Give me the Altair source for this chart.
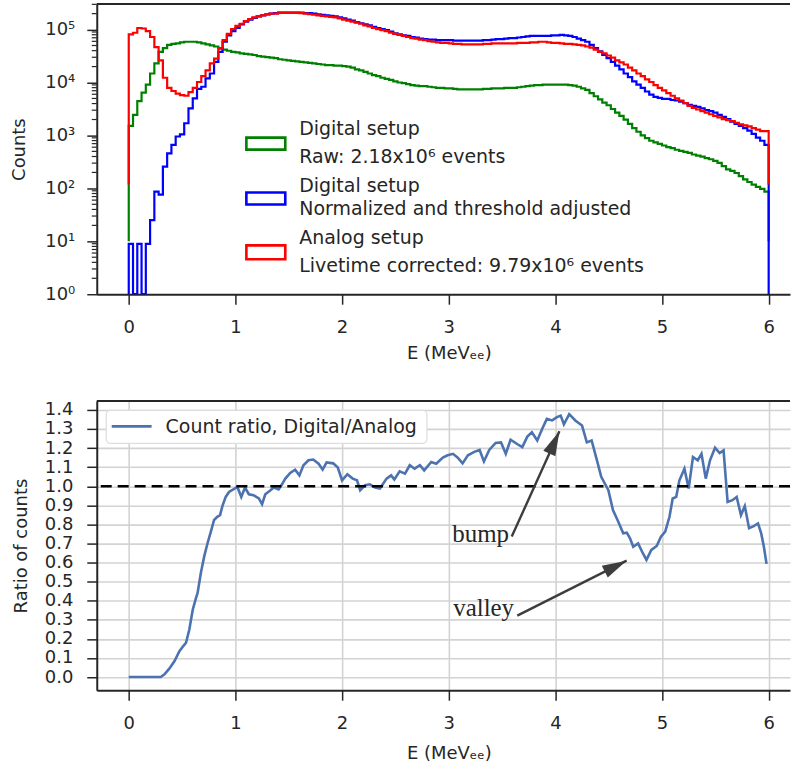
import altair as alt
import pandas as pd

# ---------------- data ----------------
BIN_WIDTH = 0.04  # MeVee, 150 bins from 0 to 6

GREEN_LOG10 = [
    3.18, 3.39, 3.65, 3.81, 3.96, 4.17, 4.36, 4.58, 4.65, 4.71,
    4.73, 4.74, 4.76, 4.77, 4.77, 4.77, 4.76, 4.74, 4.72, 4.70,
    4.68, 4.65, 4.62, 4.60, 4.58, 4.57, 4.55, 4.54, 4.53, 4.52,
    4.50, 4.49, 4.48, 4.47, 4.46, 4.44, 4.43, 4.42, 4.41, 4.40,
    4.39, 4.38, 4.37, 4.36, 4.35, 4.34, 4.33, 4.33, 4.32, 4.32,
    4.31, 4.30, 4.28, 4.25, 4.23, 4.20, 4.17, 4.14, 4.12, 4.09,
    4.07, 4.05, 4.02, 4.00, 3.99, 3.97, 3.95, 3.94, 3.93, 3.93,
    3.92, 3.91, 3.90, 3.90, 3.89, 3.89, 3.88, 3.87, 3.87, 3.87,
    3.87, 3.87, 3.87, 3.88, 3.88, 3.89, 3.89, 3.89, 3.90, 3.90,
    3.90, 3.91, 3.92, 3.93, 3.94, 3.95, 3.95, 3.96, 3.96, 3.96,
    3.96, 3.96, 3.96, 3.95, 3.94, 3.92, 3.89, 3.86, 3.80, 3.74,
    3.68, 3.62, 3.57, 3.50, 3.43, 3.37, 3.30, 3.22, 3.14, 3.07,
    3.00, 2.95, 2.90, 2.87, 2.84, 2.81, 2.78, 2.76, 2.73, 2.71,
    2.69, 2.67, 2.64, 2.62, 2.60, 2.57, 2.55, 2.52, 2.48, 2.42,
    2.36, 2.33, 2.29, 2.23, 2.17, 2.12, 2.07, 2.03, 1.99, 1.94,
]

BLUE_LOG10 = [
    0.95, 0.00, 0.95, 0.00, 0.95, 1.40, 1.94, 1.88, 2.41, 2.66,
    2.82, 2.98, 3.02, 3.23, 3.51, 3.70, 3.88, 3.92, 4.08, 4.17,
    4.39, 4.58, 4.77, 4.89, 4.97, 5.03, 5.10, 5.15, 5.19, 5.22,
    5.25, 5.27, 5.29, 5.30, 5.31, 5.32, 5.32, 5.32, 5.32, 5.32,
    5.32, 5.31, 5.31, 5.30, 5.29, 5.28, 5.27, 5.26, 5.25, 5.23,
    5.21, 5.19, 5.17, 5.14, 5.12, 5.10, 5.08, 5.05, 5.03, 5.01,
    4.99, 4.96, 4.93, 4.91, 4.89, 4.88, 4.86, 4.85, 4.83, 4.82,
    4.81, 4.81, 4.80, 4.80, 4.80, 4.80, 4.79, 4.79, 4.79, 4.79,
    4.79, 4.79, 4.79, 4.80, 4.80, 4.81, 4.82, 4.82, 4.83, 4.84,
    4.84, 4.85, 4.86, 4.87, 4.88, 4.88, 4.88, 4.88, 4.88, 4.89,
    4.89, 4.90, 4.89, 4.88, 4.86, 4.83, 4.80, 4.77, 4.71, 4.65,
    4.59, 4.52, 4.46, 4.39, 4.32, 4.25, 4.17, 4.10, 4.02, 3.96,
    3.90, 3.83, 3.77, 3.73, 3.71, 3.69, 3.69, 3.67, 3.66, 3.64,
    3.61, 3.58, 3.56, 3.54, 3.51, 3.48, 3.46, 3.43, 3.39, 3.35,
    3.31, 3.26, 3.22, 3.18, 3.14, 3.09, 3.03, 2.96, 2.90, 2.82,
]

RED_LOG10 = [
    4.91, 4.94, 5.03, 5.02, 4.97, 4.86, 4.67, 4.42, 4.09, 3.90,
    3.84, 3.79, 3.76, 3.75, 3.82, 3.90, 4.01, 4.12, 4.23, 4.36,
    4.45, 4.64, 4.80, 4.92, 5.01, 5.07, 5.11, 5.16, 5.20, 5.23,
    5.25, 5.27, 5.28, 5.30, 5.30, 5.32, 5.32, 5.32, 5.32, 5.32,
    5.31, 5.30, 5.29, 5.28, 5.27, 5.26, 5.25, 5.24, 5.23, 5.21,
    5.19, 5.17, 5.15, 5.13, 5.11, 5.08, 5.06, 5.03, 5.01, 4.99,
    4.97, 4.94, 4.92, 4.90, 4.88, 4.86, 4.84, 4.83, 4.81, 4.80,
    4.78, 4.77, 4.76, 4.75, 4.75, 4.74, 4.73, 4.73, 4.72, 4.72,
    4.72, 4.72, 4.72, 4.73, 4.73, 4.74, 4.74, 4.74, 4.74, 4.74,
    4.74, 4.75, 4.75, 4.75, 4.76, 4.76, 4.77, 4.77, 4.76, 4.75,
    4.75, 4.74, 4.73, 4.73, 4.72, 4.71, 4.70, 4.68, 4.66, 4.62,
    4.58, 4.55, 4.51, 4.47, 4.42, 4.38, 4.34, 4.28, 4.23, 4.17,
    4.12, 4.06, 4.01, 3.95, 3.90, 3.85, 3.80, 3.75, 3.70, 3.66,
    3.61, 3.56, 3.52, 3.49, 3.46, 3.43, 3.40, 3.37, 3.34, 3.31,
    3.29, 3.27, 3.24, 3.21, 3.19, 3.17, 3.14, 3.11, 3.08, 3.08,
]

# lower end of each histogram outline (counts)
GREEN_FLOOR = 10.0
BLUE_FLOOR = 1.0
RED_FLOOR = 118.0

RATIO_E = [
    0.0, 0.30, 0.335, 0.38, 0.428, 0.475, 0.515, 0.537, 0.568, 0.60,
    0.63, 0.645, 0.676, 0.707, 0.738, 0.77, 0.80, 0.83, 0.856, 0.878,
    0.909, 0.94, 0.98, 1.018, 1.055, 1.09, 1.126, 1.17, 1.22, 1.25,
    1.28, 1.32, 1.36, 1.405, 1.437, 1.468, 1.514, 1.56, 1.60, 1.638,
    1.685, 1.73, 1.78, 1.818, 1.855, 1.917, 1.96, 2.0, 2.05, 2.10,
    2.14, 2.17, 2.215, 2.26, 2.31, 2.355, 2.417, 2.46, 2.49, 2.54,
    2.59, 2.635, 2.68, 2.73, 2.77, 2.836, 2.883, 2.945, 2.99, 3.04,
    3.085, 3.13, 3.18, 3.24, 3.29, 3.33, 3.38, 3.44, 3.49, 3.535,
    3.58, 3.645, 3.69, 3.737, 3.78, 3.83, 3.876, 3.92, 3.97, 4.015,
    4.05, 4.08, 4.13, 4.187, 4.25, 4.295, 4.34, 4.39, 4.43, 4.497,
    4.54, 4.59, 4.636, 4.67, 4.70, 4.73, 4.776, 4.82, 4.854, 4.90,
    4.95, 4.99, 5.03, 5.07, 5.10, 5.133, 5.163, 5.21, 5.25, 5.29,
    5.335, 5.37, 5.41, 5.45, 5.497, 5.54, 5.577, 5.615, 5.66, 5.70,
    5.74, 5.776, 5.816, 5.86, 5.90, 5.93, 5.955, 5.98,
]
RATIO_R = [
    0.0, 0.0, 0.014, 0.044, 0.083, 0.136, 0.165, 0.18, 0.249, 0.353,
    0.414, 0.44, 0.545, 0.631, 0.70, 0.762, 0.823, 0.84, 0.849, 0.896,
    0.944, 0.97, 0.983, 0.997, 0.944, 0.993, 0.958, 0.953, 0.936, 0.906,
    0.958, 0.975, 0.993, 0.983, 1.01, 1.04, 1.07, 1.087, 1.057, 1.11,
    1.136, 1.14, 1.118, 1.087, 1.125, 1.12, 1.098, 1.031, 1.063, 1.04,
    1.031, 0.979, 1.005, 1.01, 0.993, 0.988, 1.04, 1.057, 1.035, 1.078,
    1.066, 1.11, 1.092, 1.11, 1.083, 1.127, 1.118, 1.15, 1.162, 1.17,
    1.15, 1.12, 1.162, 1.18, 1.19, 1.13, 1.19, 1.227, 1.23, 1.17,
    1.244, 1.22, 1.205, 1.26, 1.283, 1.24, 1.30, 1.353, 1.345, 1.362,
    1.37, 1.325, 1.378, 1.345, 1.318, 1.23, 1.24, 1.136, 1.049, 0.979,
    0.875, 0.814, 0.753, 0.757, 0.727, 0.683, 0.70, 0.649, 0.614, 0.666,
    0.687, 0.736, 0.762, 0.84, 0.936, 0.944, 1.031, 1.092, 0.988, 1.153,
    1.136, 1.17, 1.04, 1.136, 1.202, 1.174, 1.188, 0.918, 0.927, 0.944,
    0.849, 0.896, 0.78, 0.791, 0.805, 0.753, 0.683, 0.593,
]

X_TICKS = [0, 1, 2, 3, 4, 5, 6]
LOG_TICKS = [1, 10, 100, 1000, 10000, 100000]
LOG_MINOR = [m * 10 ** k for k in range(0, 6) for m in range(2, 10) if m * 10 ** k <= 3.0e5]
RATIO_TICKS = [0.0, 0.1, 0.2, 0.3, 0.4, 0.5, 0.6, 0.7, 0.8, 0.9, 1.0, 1.1, 1.2, 1.3, 1.4]

TOP_LEGEND = [
    ("#008000", ["Digital setup", "Raw: 2.18x10\u2076 events"]),
    ("#0000ff", ["Digital setup", "Normalized and threshold adjusted"]),
    ("#ff0000", ["Analog setup", "Livetime corrected: 9.79x10\u2076 events"]),
]
RATIO_LABEL = "Count ratio, Digital/Analog"
ANNOTATIONS = [
    # text, text x, text y, arrow start x, y, arrow tip x, y, head angle
    ("bump", 3.566, 0.709, 3.591, 0.736, 4.038, 1.288, 24.4),
    ("valley", 3.613, 0.318, 3.643, 0.322, 4.668, 0.610, 63.3),
]

# ---------------- styling ----------------
FONT = "DejaVu Sans"
INK = "#262626"
W, H = 695, 291
H2 = 290
X_TITLE = "E (MeV\u2091\u2091)"

x_scale = alt.Scale(domain=[-0.3, 6.2], nice=False, zero=False)
y_log = alt.Scale(type="log", domain=[1, 3.05e5], nice=False)
y_ratio = alt.Scale(domain=[-0.069, 1.447], nice=False, zero=False)

label_expr = ("datum.value == 1 ? '10\u2070' : datum.value == 10 ? '10\u00b9' : "
              "datum.value == 100 ? '10\u00b2' : datum.value == 1000 ? '10\u00b3' : "
              "datum.value == 10000 ? '10\u2074' : '10\u2075'")

X_AXIS_TOP = alt.Axis(values=X_TICKS, format="d", title=X_TITLE, grid=False,
                      labelFlush=False, labelPadding=14, titlePadding=8, titleX=353)
Y_AXIS_TOP = alt.Axis(values=LOG_TICKS, labelExpr=label_expr, title="Counts",
                      grid=False, labelFlush=False, labelOverlap=False,
                      labelPadding=12, titlePadding=16)
X_AXIS_BOT = alt.Axis(values=X_TICKS, format="d", title=X_TITLE, grid=True,
                      gridColor="#d3d3d3", gridWidth=1.6, labelFlush=False,
                      labelPadding=14, titlePadding=12, titleX=353)
Y_AXIS_BOT = alt.Axis(values=RATIO_TICKS, format=".1f", title="Ratio of counts",
                      grid=True, gridColor="#d3d3d3", gridWidth=1.6,
                      labelFlush=False, labelOverlap=False,
                      labelPadding=14, titlePadding=14)

one = pd.DataFrame({"k": [0]})


def step_frame(logs, floor):
    """Histogram outline as explicit horizontal/vertical segments."""
    n = len(logs)
    xs, cs = [0.0], [floor]
    for k, v in enumerate(logs):
        xs += [round(k * BIN_WIDTH, 4), round((k + 1) * BIN_WIDTH, 4)]
        cs += [10 ** v, 10 ** v]
    xs.append(round(n * BIN_WIDTH, 4))
    cs.append(floor)
    return pd.DataFrame({"E": xs, "C": cs, "i": list(range(len(xs)))})


def hist(logs, floor, color):
    return alt.Chart(step_frame(logs, floor)).mark_line(
        color=color, strokeWidth=2.2, clip=True, strokeJoin="miter"
    ).encode(
        x=alt.X("E:Q", scale=x_scale, axis=X_AXIS_TOP),
        y=alt.Y("C:Q", scale=y_log, axis=Y_AXIS_TOP),
        order="i:Q",
    )


top_layers = [
    hist(GREEN_LOG10, GREEN_FLOOR, "#008000"),
    hist(BLUE_LOG10, BLUE_FLOOR, "#0000ff"),
    hist(RED_LOG10, RED_FLOOR, "#ff0000"),
    alt.Chart(pd.DataFrame({"C": LOG_MINOR})).mark_rule(color=INK, strokeWidth=1.2).encode(
        y=alt.Y("C:Q", scale=y_log, axis=Y_AXIS_TOP), x=alt.value(0), x2=alt.value(-5)),
    alt.Chart(one).mark_rule(color=INK, strokeWidth=2).encode(
        x=alt.value(0), x2=alt.value(W), y=alt.value(0)),
]

patch_y = [(134, 146), (189, 201), (242, 256)]
text_y = [(131.3, 159.7), (188.7, 211.3), (240.7, 268.7)]
for (color, lines), (py0, py1), (ty0, ty1) in zip(TOP_LEGEND, patch_y, text_y):
    top_layers.append(alt.Chart(one).mark_rect(fill="white", stroke=color, strokeWidth=2.6).encode(
        x=alt.value(150), x2=alt.value(189), y=alt.value(py0), y2=alt.value(py1)))
    for line, ty in zip(lines, (ty0, ty1)):
        top_layers.append(alt.Chart(one).mark_text(
            align="left", baseline="alphabetic", font=FONT, fontSize=19, color=INK
        ).encode(x=alt.value(203), y=alt.value(ty), text=alt.value(line)))

top = alt.layer(*top_layers).properties(width=W, height=H)

# ---------------- bottom panel ----------------
ratio_df = pd.DataFrame({"E": RATIO_E, "R": RATIO_R})


def bx(field):
    return alt.X(field, type="quantitative", scale=x_scale, axis=X_AXIS_BOT)


def by(field):
    return alt.Y(field, type="quantitative", scale=y_ratio, axis=Y_AXIS_BOT)


ann = pd.DataFrame({
    "label": [a[0] for a in ANNOTATIONS],
    "E": [a[1] for a in ANNOTATIONS], "R": [a[2] for a in ANNOTATIONS],
    "sx": [a[3] for a in ANNOTATIONS], "sy": [a[4] for a in ANNOTATIONS],
    "ex": [a[5] for a in ANNOTATIONS], "ey": [a[6] for a in ANNOTATIONS],
    "ang": [a[7] for a in ANNOTATIONS],
})
ARROW = "#3d3d3d"

bottom_layers = [
    alt.Chart(ratio_df).mark_line(color="#4C72B0", strokeWidth=2.6).encode(
        x=bx("E"), y=by("R")),
    alt.Chart(pd.DataFrame({"R": [1.0]})).mark_rule(
        color="black", strokeWidth=2.6, strokeDash=[11, 6]).encode(y=by("R")),
    alt.Chart(one).mark_rect(fill="white", stroke="#dddddd", strokeWidth=1.2, cornerRadius=4).encode(
        x=alt.value(9.5), x2=alt.value(331), y=alt.value(9.5), y2=alt.value(42.5)),
    alt.Chart(one).mark_rule(color="#4C72B0", strokeWidth=2.6).encode(
        x=alt.value(15), x2=alt.value(55), y=alt.value(25.5)),
    alt.Chart(one).mark_text(align="left", baseline="alphabetic", font=FONT, fontSize=19,
                             color=INK).encode(
        x=alt.value(69), y=alt.value(32.5), text=alt.value(RATIO_LABEL)),
    alt.Chart(one).mark_rule(color=INK, strokeWidth=2).encode(
        x=alt.value(0), x2=alt.value(W), y=alt.value(0)),
    alt.Chart(ann).mark_rule(color=ARROW, strokeWidth=2.4).encode(
        x=bx("sx"), y=by("sy"), x2="ex:Q", y2="ey:Q"),
    alt.Chart(ann).mark_point(shape="M0,0 L0.27,1 L-0.27,1 Z", filled=True, size=2400,
                              color=ARROW, opacity=1, strokeWidth=0).encode(
        x=bx("ex"), y=by("ey"), angle=alt.Angle("ang:Q", scale=None)),
    alt.Chart(ann).mark_text(align="right", baseline="alphabetic", font="Liberation Serif",
                             fontSize=25, color=INK).encode(
        x=bx("E"), y=by("R"), text="label:N"),
]

bottom = alt.layer(*bottom_layers).properties(width=W, height=H2)

chart = alt.vconcat(top, bottom, spacing=38).properties(
    padding={"left": 10, "top": 2, "right": 0, "bottom": 0}
).configure_view(stroke=None).configure_axis(
    labelFont=FONT, labelFontSize=18, labelColor=INK,
    titleFont=FONT, titleFontSize=18, titleFontWeight="normal", titleColor=INK,
    domainColor=INK, domainWidth=2, tickColor=INK, tickWidth=1.5, tickSize=10,
)

chart.save("out.html", embed_options={"renderer": "svg", "actions": False})
